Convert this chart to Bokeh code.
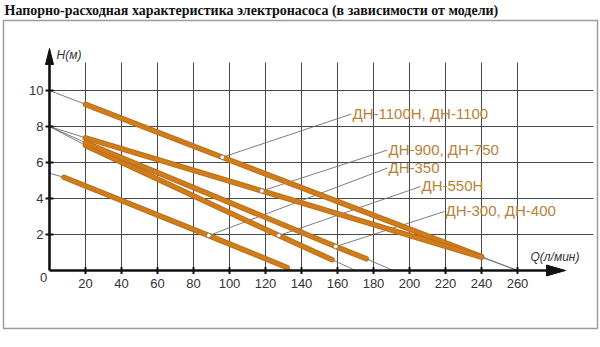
from bokeh.plotting import figure
from bokeh.models import Range1d
from bokeh.embed import file_html
from bokeh.resources import INLINE
from bokeh.core.properties import value

# ---------------- data ----------------
title_text = "Напорно-расходная характеристика электронасоса (в зависимости от модели)"
x_title = "Q(л/мин)"
y_title = "H(м)"

q_ticks = [20, 40, 60, 80, 100, 120, 140, 160, 180, 200, 220, 240, 260]
q_tick_labels = ["20", "40", "60", "80", "100", "120", "140", "160", "180", "200", "220", "240", "260"]
h_ticks = [2, 4, 6, 8, 10]
h_tick_labels = ["2", "4", "6", "8", "10"]

model_labels = ["ДН-1100Н, ДН-1100", "ДН-900, ДН-750", "ДН-350", "ДН-550Н", "ДН-300, ДН-400"]

# curves: start point, marked point (leader dot), end point
dn1100_q = [20, 96, 240]
dn1100_h = [9.23, 6.29, 0.77]
dn900_q = [20, 118, 240]
dn900_h = [7.37, 4.42, 0.74]
dn350_q = [8, 88.5, 132]
dn350_h = [5.18, 1.94, 0.17]
dn550_q = [20, 127.4, 157]
dn550_h = [6.95, 1.94, 0.6]
dn300_q = [20, 159, 176]
dn300_h = [7.1, 1.33, 0.65]

# thin extensions: head at zero flow, flow at zero head
h_at_zero_flow = [10, 8, 5.4, 8, 8]
q_at_zero_head = [260, 260, 135, 170, 191]

curves_q = [dn1100_q, dn900_q, dn350_q, dn550_q, dn300_q]
curves_h = [dn1100_h, dn900_h, dn350_h, dn550_h, dn300_h]

# ---------------- layout (pixel mapping) ----------------
W, H = 600, 347
X0_PX, Y0_PX = 49.0, 270.0      # pixel position of origin
SX, SY = 1.8, 18.0              # pixels per unit


def px_x(px):
    return (px - X0_PX) / SX


def px_y(py):
    return (Y0_PX - py) / SY


p = figure(width=W, height=H, output_backend="svg", toolbar_location=None,
           x_range=Range1d(px_x(0), px_x(W)), y_range=Range1d(px_y(H), px_y(0)),
           x_axis_type=None, y_axis_type=None, min_border=0,
           outline_line_color=None, background_fill_color="white",
           border_fill_color="white")
p.grid.visible = False

FONT = value("Liberation Sans")
GRID_C = "#4a4a4a"
THIN_C = "#6e6e6e"
LINE_DARK = "#bd6a12"
LINE_LIGHT = "#cf7c1c"
LABEL_C = "#b7823a"

# outer frame
p.quad(left=[px_x(3)], right=[px_x(597)], top=[px_y(20)], bottom=[px_y(328)],
       fill_color=None, line_color="#9c9c9c", line_width=1.5)

# title
p.text(x=[px_x(4)], y=[px_y(10)], text=[title_text], text_font=value("Liberation Serif"),
       text_font_style="bold", text_font_size="14px", text_color="#111111",
       text_align="left", text_baseline="middle")

# grid
grid_top = px_y(62)
grid_right = px_x(593)
p.segment(x0=q_ticks, x1=q_ticks, y0=[0] * len(q_ticks), y1=[grid_top] * len(q_ticks),
          line_color=GRID_C, line_width=1)
p.segment(x0=[0] * len(h_ticks), x1=[grid_right] * len(h_ticks), y0=h_ticks, y1=h_ticks,
          line_color=GRID_C, line_width=1)

# thin extensions of the curves to the axes
for qs, hs, h0, qm in zip(curves_q, curves_h, h_at_zero_flow, q_at_zero_head):
    p.line([0, qs[0]], [h0, hs[0]], line_color=THIN_C, line_width=0.9)
    p.line([qs[-1], qm], [hs[-1], 0], line_color=THIN_C, line_width=0.9)

# label anchors (left edge, vertical centre) in pixels
label_px = [(352, 112.5), (388, 148.5), (388, 166.5), (421, 185), (445, 210)]
for qs, hs, (lx, ly) in zip(curves_q, curves_h, label_px):
    p.line([qs[1], px_x(lx - 1)], [hs[1], px_y(ly + 1)], line_color=THIN_C, line_width=0.9)

# curves
for qs, hs in zip(curves_q, curves_h):
    p.line(qs, hs, line_color=LINE_DARK, line_width=5.5, line_cap="round")
    p.line(qs, hs, line_color=LINE_LIGHT, line_width=3.8, line_cap="round")

# leader dots
p.scatter(x=[q[1] for q in curves_q], y=[h[1] for h in curves_h], size=4.5,
          fill_color="white", line_color="#777777", line_width=0.8)

# model labels
p.text(x=[px_x(lx) for lx, _ in label_px], y=[px_y(ly) for _, ly in label_px],
       text=model_labels, text_font=FONT, text_font_size="15px", text_color=LABEL_C,
       text_align="left", text_baseline="middle")

# axes
AX_C = "#111111"
p.segment(x0=[0], y0=[0], x1=[0], y1=[px_y(63)], line_color=AX_C, line_width=2.6)
p.segment(x0=[0], y0=[0], x1=[px_x(548)], y1=[0], line_color=AX_C, line_width=2.6)
p.patch([px_x(X0_PX - 4), px_x(X0_PX + 4), px_x(X0_PX)], [px_y(64), px_y(64), px_y(48)],
        fill_color=AX_C, line_color=AX_C)
p.patch([px_x(546), px_x(546), px_x(565)], [px_y(264.5), px_y(275.5), px_y(270)],
        fill_color=AX_C, line_color=AX_C)

# ticks
p.segment(x0=[px_x(X0_PX - 4)] * len(h_ticks), x1=[px_x(X0_PX + 4)] * len(h_ticks),
          y0=h_ticks, y1=h_ticks, line_color=AX_C, line_width=2)
p.segment(x0=q_ticks, x1=q_ticks, y0=[px_y(Y0_PX - 3.5)] * len(q_ticks),
          y1=[px_y(Y0_PX + 3.5)] * len(q_ticks), line_color=AX_C, line_width=2)

# tick labels
p.text(x=[px_x(43)] * len(h_ticks), y=h_ticks, text=h_tick_labels, text_font=FONT,
       text_font_size="13px", text_color="#333333", text_align="right", text_baseline="middle")
p.text(x=q_ticks, y=[px_y(283)] * len(q_ticks), text=q_tick_labels, text_font=FONT,
       text_font_size="13px", text_color="#333333", text_align="center", text_baseline="middle")
p.text(x=[px_x(43)], y=[px_y(277)], text=["0"], text_font=FONT,
       text_font_size="13px", text_color="#333333", text_align="center", text_baseline="middle")

# axis titles
p.text(x=[px_x(56)], y=[px_y(54)], text=[y_title], text_font=FONT, text_font_style="italic",
       text_font_size="12px", text_color="#333333", text_align="left", text_baseline="middle")
p.text(x=[px_x(530)], y=[px_y(256)], text=[x_title], text_font=FONT, text_font_style="italic",
       text_font_size="12px", text_color="#333333", text_align="left", text_baseline="middle")

open("out.html", "w").write(file_html(p, INLINE))
